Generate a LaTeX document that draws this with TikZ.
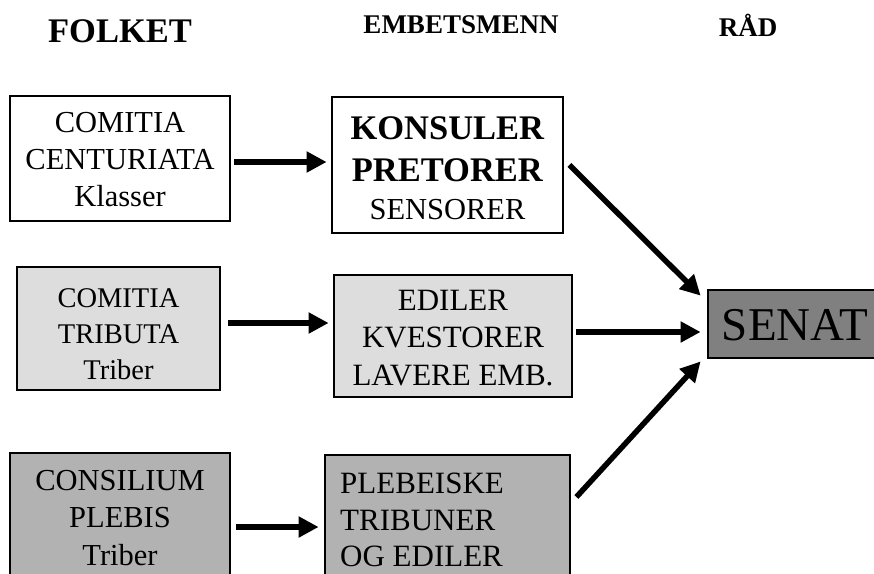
\documentclass[tikz,border=0pt]{standalone}
\usepackage{fontspec}
\setmainfont{Liberation Serif}
\usetikzlibrary{arrows.meta}
\definecolor{lightg}{HTML}{DDDDDD}
\definecolor{midg}{HTML}{B2B2B2}
\definecolor{darkg}{HTML}{808080}
\begin{document}
\begin{tikzpicture}[x=1pt,y=-1pt,
  box/.style={draw=black,line width=2.8pt,inner sep=0pt},
  txt/.style={inner sep=0pt,align=center},
  hdr/.style={font=\fontsize{27}{30}\selectfont\bfseries},
  arr/.style={line width=5.5pt,-{Triangle[length=20pt,width=20pt]}}]
\useasboundingbox (0,0) rectangle (874,573);
\clip (0,0) rectangle (874,573);
% headers
\node[hdr,font=\fontsize{34.5}{36}\selectfont\bfseries] (h1) at (120,31) {FOLKET};
\node[hdr] (h2) at (461,25) {EMBETSMENN};
\node[hdr] (h3) at (748,25) {RÅD};
% boxes
\node[box,fill=white,minimum width=220pt,minimum height=125pt] (A) at (120,158.5) {};
\node[txt,font=\fontsize{30.5}{37}\selectfont] (At) at (120,160)
  {COMITIA\\CENTURIATA\\Klasser};
\node[box,fill=white,minimum width=231pt,minimum height=136pt] (B) at (447.5,165) {};
\node[txt,font=\fontsize{34.5}{42}\selectfont] (Bt) at (447.5,168)
  {\textbf{KONSULER}\\\textbf{PRETORER}\\[-4pt]
   {\fontsize{30.5}{42}\selectfont SENSORER}};
\node[box,fill=lightg,minimum width=203pt,minimum height=123pt] (C) at (118.5,328.5) {};
\node[txt,font=\fontsize{28.5}{36}\selectfont] (Ct) at (118.5,334)
  {COMITIA\\TRIBUTA\\Triber};
\node[box,fill=lightg,minimum width=238pt,minimum height=122pt] (D) at (453,336) {};
\node[txt,font=\fontsize{31}{37.5}\selectfont] (Dt) at (453,338)
  {EDILER\\KVESTORER\\LAVERE EMB.};
\node[box,fill=midg,minimum width=220pt,minimum height=140pt] (E) at (120,523) {};
\node[txt,font=\fontsize{30.5}{37.5}\selectfont] (Et) at (120,518)
  {CONSILIUM\\PLEBIS\\Triber};
\node[box,fill=midg,minimum width=245pt,minimum height=140pt] (F) at (447.5,525) {};
\node[txt,align=left,anchor=west,font=\fontsize{31}{36.5}\selectfont] (Ft) at (340,520)
  {PLEBEISKE\\TRIBUNER\\OG EDILER};
\node[box,fill=darkg,minimum width=200pt,minimum height=68pt] (S) at (808,324) {};
\node[txt,font=\fontsize{47}{50}\selectfont] (St) at (795,325) {SENAT};
% arrows
\draw[arr,shorten <=3pt,shorten >=4pt] ([yshift=-3.5pt]A.east) -- ([yshift=3pt]B.west);
\draw[arr,shorten <=7pt,shorten >=4pt] ([yshift=5.5pt]C.east) -- ([yshift=13pt]D.west);
\draw[arr,shorten <=5pt,shorten >=5pt] ([yshift=-4pt]E.east) -- ([yshift=-2pt]F.west);
\draw[arr,shorten <=3pt,shorten >=6pt] ([yshift=4pt]D.east) -- ([yshift=-8pt]S.west);
\draw[arr] ([xshift=5pt]B.east) -- ([xshift=-6pt,yshift=-7pt]S.north west);
\draw[arr] ([xshift=5pt,yshift=28pt]F.east) -- ([xshift=-6pt,yshift=-2pt]S.south west);
\end{tikzpicture}
\end{document}
